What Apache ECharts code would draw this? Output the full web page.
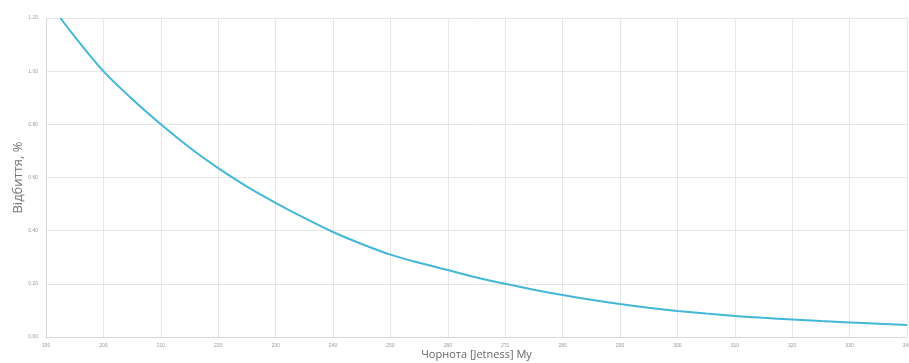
<!DOCTYPE html>
<html>
<head>
<meta charset="utf-8">
<script src="https://cdn.jsdelivr.net/npm/echarts@6/dist/echarts.min.js"></script>
<style>
  html, body {margin: 0; padding: 0; background: #fff;}
  #chart {width: 909px; height: 363px;}
</style>
</head>
<body>
<div id="chart"></div>
<script>
// jetness My values and reflectance
const jetness = [192.5, 195, 200, 205, 210, 215, 220, 225, 230, 235, 240, 245, 250, 255, 260, 265, 270, 275, 280, 285, 290, 295, 300, 305, 310, 315, 320, 325, 330, 335, 340];
const reflect = [1.20, 1.13, 1.00, 0.895, 0.80, 0.713, 0.635, 0.566, 0.505, 0.448, 0.395, 0.35, 0.31, 0.279, 0.252, 0.224, 0.20, 0.178, 0.158, 0.14, 0.124, 0.11, 0.098, 0.088, 0.079, 0.072, 0.066, 0.060, 0.055, 0.050, 0.045];

const chart = echarts.init(document.getElementById('chart'));
chart.setOption({
  animation: false,
  grid: {left: 46, right: 2, top: 18, bottom: 26, outerBoundsMode: 'none'},
  xAxis: {
    type: 'value',
    min: 190,
    max: 340,
    interval: 10,
    name: 'Чорнота [Jetness] My',
    nameLocation: 'middle',
    nameGap: 12,
    nameMoveOverlap: false,
    nameTextStyle: {color: '#666', fontSize: 11, fontFamily: 'Open Sans'},
    axisLine: {lineStyle: {color: '#d8d8d8'}},
    axisTick: {show: false},
    axisLabel: {color: '#999', fontSize: 5, margin: 6, formatter: v => v.toFixed(0)},
    splitLine: {show: true, lineStyle: {color: '#e6e6e6'}}
  },
  yAxis: {
    type: 'value',
    min: 0,
    max: 1.2,
    interval: 0.2,
    name: 'Відбиття, %',
    nameLocation: 'middle',
    nameGap: 21,
    nameMoveOverlap: false,
    nameTextStyle: {color: '#777', fontSize: 13, fontFamily: 'Open Sans'},
    axisLine: {show: true, lineStyle: {color: '#d8d8d8'}},
    axisTick: {show: false},
    axisLabel: {color: '#999', fontSize: 5, margin: 8, formatter: v => v.toFixed(2)},
    splitLine: {show: true, lineStyle: {color: '#e6e6e6'}}
  },
  series: [{
    type: 'line',
    data: jetness.map((x, i) => [x, reflect[i]]),
    smooth: 0.3,
    showSymbol: false,
    lineStyle: {color: '#43b7d7', width: 2}
  }]
});
</script>
</body>
</html>
